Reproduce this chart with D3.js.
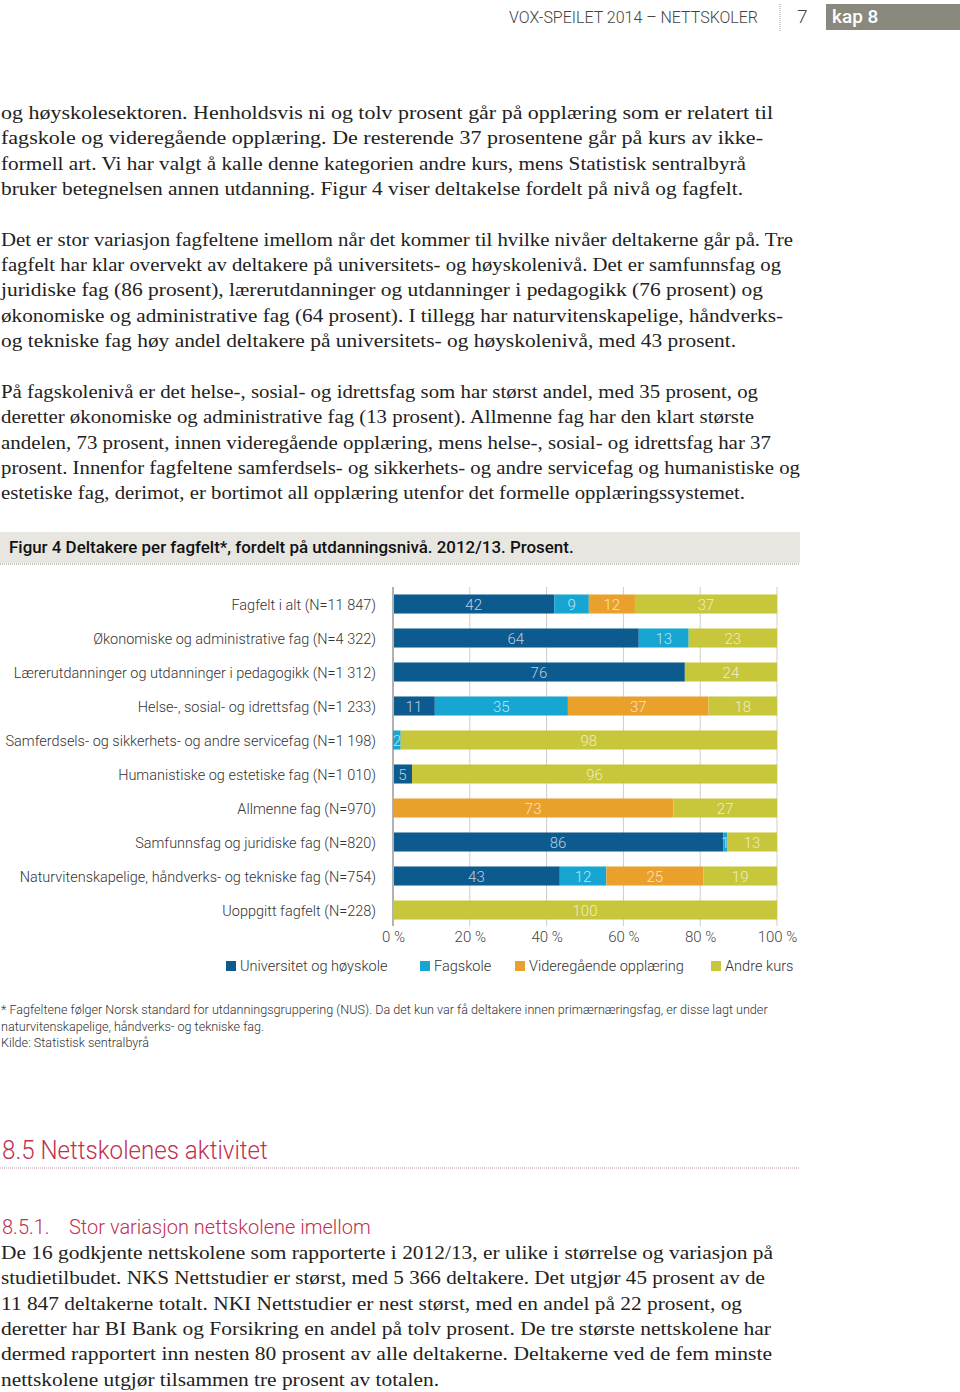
<!DOCTYPE html>
<html><head><meta charset="utf-8">
<script src="https://cdn.jsdelivr.net/npm/d3@7"></script>
<style>
body{margin:0;background:#fff;}
svg{display:block;}
</style></head>
<body>
<svg id="page" width="960" height="1392"></svg>
<script>
// ---- DATA ----
const categories = [
  "Fagfelt i alt (N=11 847)",
  "Økonomiske og administrative fag (N=4 322)",
  "Lærerutdanninger og utdanninger i pedagogikk (N=1 312)",
  "Helse-, sosial- og idrettsfag (N=1 233)",
  "Samferdsels- og sikkerhets- og andre servicefag (N=1 198)",
  "Humanistiske og estetiske fag (N=1 010)",
  "Allmenne fag (N=970)",
  "Samfunnsfag og juridiske fag (N=820)",
  "Naturvitenskapelige, håndverks- og tekniske fag (N=754)",
  "Uoppgitt fagfelt (N=228)"
];
const seriesNames = ["Universitet og høyskole","Fagskole","Videregående opplæring","Andre kurs"];
const universitet = [42, 64, 76, 11, 0, 5, 0, 86, 43, 0];
const fagskole    = [9, 13, 0, 35, 2, 0, 0, 1, 12, 0];
const videregaende= [12, 0, 0, 37, 0, 0, 73, 0, 25, 0];
const andreKurs   = [37, 23, 24, 18, 98, 96, 27, 13, 19, 100];
const tickValues = [0, 0.2, 0.4, 0.6, 0.8, 1.0];
const tickLabels = ["0 %","20 %","40 %","60 %","80 %","100 %"];
const colors = ["#0d5a8e","#16a6d1","#e9a12c","#c8c63a"];

const bodyTop = [
 "og høyskolesektoren. Henholdsvis ni og tolv prosent går på opplæring som er relatert til",
 "fagskole og videregående opplæring. De resterende 37 prosentene går på kurs av ikke-",
 "formell art. Vi har valgt å kalle denne kategorien andre kurs, mens Statistisk sentralbyrå",
 "bruker betegnelsen annen utdanning. Figur 4 viser deltakelse fordelt på nivå og fagfelt.",
 "",
 "Det er stor variasjon fagfeltene imellom når det kommer til hvilke nivåer deltakerne går på. Tre",
 "fagfelt har klar overvekt av deltakere på universitets- og høyskolenivå. Det er samfunnsfag og",
 "juridiske fag (86 prosent), lærerutdanninger og utdanninger i pedagogikk (76 prosent) og",
 "økonomiske og administrative fag (64 prosent). I tillegg har naturvitenskapelige, håndverks-",
 "og tekniske fag høy andel deltakere på universitets- og høyskolenivå, med 43 prosent.",
 "",
 "På fagskolenivå er det helse-, sosial- og idrettsfag som har størst andel, med 35 prosent, og",
 "deretter økonomiske og administrative fag (13 prosent). Allmenne fag har den klart største",
 "andelen, 73 prosent, innen videregående opplæring, mens helse-, sosial- og idrettsfag har 37",
 "prosent. Innenfor fagfeltene samferdsels- og sikkerhets- og andre servicefag og humanistiske og",
 "estetiske fag, derimot, er bortimot all opplæring utenfor det formelle opplæringssystemet."
];
const bodyBottom = [
 "De 16 godkjente nettskolene som rapporterte i 2012/13, er ulike i størrelse og variasjon på",
 "studietilbudet. NKS Nettstudier er størst, med 5 366 deltakere. Det utgjør 45 prosent av de",
 "11 847 deltakerne totalt. NKI Nettstudier er nest størst, med en andel på 22 prosent, og",
 "deretter har BI Bank og Forsikring en andel på tolv prosent. De tre største nettskolene har",
 "dermed rapportert inn nesten 80 prosent av alle deltakerne. Deltakerne ved de fem minste",
 "nettskolene utgjør tilsammen tre prosent av totalen."
];
const footnotes = [
 "* Fagfeltene følger Norsk standard for utdanningsgruppering (NUS). Da det kun var få deltakere innen primærnæringsfag, er disse lagt under",
 "naturvitenskapelige, håndverks- og tekniske fag.",
 "Kilde: Statistisk sentralbyrå"
];

// ---- LAYOUT (typeset line ends of the body text, px) ----
const bodyTopEnds = [773,763,746,743,0,793,781,763,783,736,0,758,754,771,800,745];
const bodyBottomEnds = [773,765,742,771,772,439];

// ---- DRAW ----
const svg = d3.select("#page");
const serif = "'Liberation Serif','Times New Roman',serif";
const sans = "Roboto, 'Open Sans', sans-serif";

function squeeze(sel, f){
  sel.each(function(){
    const l = this.getComputedTextLength();
    if (l > 0) d3.select(this).attr("textLength", l*f).attr("lengthAdjust","spacingAndGlyphs");
  });
}

// header
svg.append("text").attr("x", 758).attr("y", 23).attr("text-anchor","end")
  .attr("font-family", sans).attr("font-weight",300).attr("font-size",17).attr("fill","#444")
  .text("VOX-SPEILET 2014 – NETTSKOLER").call(squeeze, 0.94);
svg.append("line").attr("x1",780).attr("x2",780).attr("y1",4).attr("y2",31)
  .attr("stroke","#999").attr("stroke-dasharray","1,1");
svg.append("text").attr("x", 797).attr("y", 23)
  .attr("font-family", sans).attr("font-weight",300).attr("font-size",19).attr("fill","#444").text("7");
svg.append("rect").attr("x",826).attr("y",4).attr("width",134).attr("height",26).attr("fill","#8b897d");
svg.append("text").attr("x",832).attr("y",23).attr("font-family",sans).attr("font-weight",500)
  .attr("font-size",19).attr("fill","#fff").text("kap 8");

function bodyLines(lines, ends, y0, step){
  svg.append("g").selectAll("text").data(lines).join("text")
    .attr("x",1).attr("y",(d,i)=>y0+i*step)
    .attr("font-family",serif).attr("font-size",19.5).attr("fill","#222")
    .text(d=>d)
    .each(function(d,i){
      if (d && ends[i]) d3.select(this).attr("textLength", ends[i]-1).attr("lengthAdjust","spacingAndGlyphs");
    });
}
bodyLines(bodyTop, bodyTopEnds, 119, 25.35);
bodyLines(bodyBottom, bodyBottomEnds, 1259, 25.3);

// figure title
svg.append("rect").attr("x",0).attr("y",532).attr("width",800).attr("height",31).attr("fill","#e7e6e1");
svg.append("line").attr("x1",0).attr("x2",800).attr("y1",564).attr("y2",564)
  .attr("stroke","#888").attr("stroke-dasharray","1,1");
svg.append("text").attr("x",9).attr("y",553).attr("font-family",sans).attr("font-weight",500)
  .attr("font-size",16.5).attr("fill","#111")
  .text("Figur 4 Deltakere per fagfelt*, fordelt på utdanningsnivå. 2012/13. Prosent.").call(squeeze, 1.025);

// chart
const rows = categories.map((c,i)=>({cat:c, s0:universitet[i], s1:fagskole[i], s2:videregaende[i], s3:andreKurs[i]}));
const keys = ["s0","s1","s2","s3"];
const stack = d3.stack().keys(keys).offset(d3.stackOffsetExpand)(rows);

const x = d3.scaleLinear().domain([0,1]).range([393,777]);
const y = d3.scaleBand().domain(categories).range([587,927]).paddingInner(0.44).paddingOuter(0.22);

// grid
svg.append("g").selectAll("line").data(tickValues).join("line")
  .attr("x1",d=>x(d)).attr("x2",d=>x(d)).attr("y1",587).attr("y2",926)
  .attr("stroke",(d,i)=>i===0?"#999":"#ccc").attr("stroke-width",(d,i)=>i===0?1.5:1);

const gBars = svg.append("g");
stack.forEach((layer,k)=>{
  gBars.append("g").attr("fill",colors[k]).selectAll("rect").data(layer).join("rect")
    .attr("x",d=>x(d[0])+(k===0?1:0)).attr("width",d=>Math.max(0,x(d[1])-x(d[0])-(k===0?1:0)))
    .attr("y",d=>y(d.data.cat)).attr("height",y.bandwidth());
});
stack.forEach((layer,k)=>{
  gBars.append("g").selectAll("text").data(layer.filter(d=>d.data[keys[k]]>0)).join("text")
    .attr("x",d=>(x(d[0])+x(d[1]))/2).attr("y",d=>y(d.data.cat)+y.bandwidth()/2+5.5)
    .attr("text-anchor","middle").attr("font-family",sans).attr("font-weight",300)
    .attr("font-size",15).attr("fill","#fff").attr("fill-opacity",0.72)
    .text(d=>d.data[keys[k]]);
});

// row labels
svg.append("g").selectAll("text").data(categories).join("text")
  .attr("x",376).attr("y",d=>y(d)+y.bandwidth()/2+5.5).attr("text-anchor","end")
  .attr("font-family",sans).attr("font-weight",300).attr("font-size",15).attr("fill","#333")
  .text(d=>d).call(squeeze, 0.965);

// x axis labels
const xAxis = d3.axisBottom(x).tickValues(tickValues).tickFormat((d,i)=>tickLabels[i]).tickSize(0).tickPadding(0);
const ax = svg.append("g").attr("transform","translate(0,934)").call(xAxis);
ax.select(".domain").remove();
ax.selectAll("text").attr("font-family",sans).attr("font-weight",300).attr("font-size",15).attr("fill","#444").attr("dy","0.5em");

// legend
const legX = [226, 420, 515, 711];
const leg = svg.append("g").selectAll("g").data(seriesNames).join("g")
  .attr("transform",(d,i)=>`translate(${legX[i]},960)`);
leg.append("rect").attr("width",10).attr("height",10).attr("y",1).attr("fill",(d,i)=>colors[i]);
leg.append("text").attr("x",14).attr("y",11).attr("font-family",sans).attr("font-weight",300)
  .attr("font-size",15).attr("fill","#333").text(d=>d).call(squeeze, 0.97);

// footnotes
svg.append("g").selectAll("text").data(footnotes).join("text")
  .attr("x",1).attr("y",(d,i)=>1014+i*16.5).attr("font-family",sans).attr("font-weight",300)
  .attr("font-size",12.5).attr("fill","#333").text(d=>d).call(squeeze, 1.008);

// section heading
svg.append("text").attr("x",2).attr("y",1159).attr("font-family",sans).attr("font-weight",300)
  .attr("font-size",25).attr("fill","#c1304f").text("8.5  Nettskolenes aktivitet").call(squeeze, 0.965);
svg.append("line").attr("x1",0).attr("x2",800).attr("y1",1168).attr("y2",1168)
  .attr("stroke","#c99").attr("stroke-dasharray","1,1");
svg.append("text").attr("x",2).attr("y",1234).attr("font-family",sans).attr("font-weight",300)
  .attr("font-size",20).attr("fill","#c1304f").text("8.5.1.");
svg.append("text").attr("x",69).attr("y",1234).attr("font-family",sans).attr("font-weight",300)
  .attr("font-size",20).attr("fill","#c1304f").text("Stor variasjon nettskolene imellom");
</script>
</body></html>
